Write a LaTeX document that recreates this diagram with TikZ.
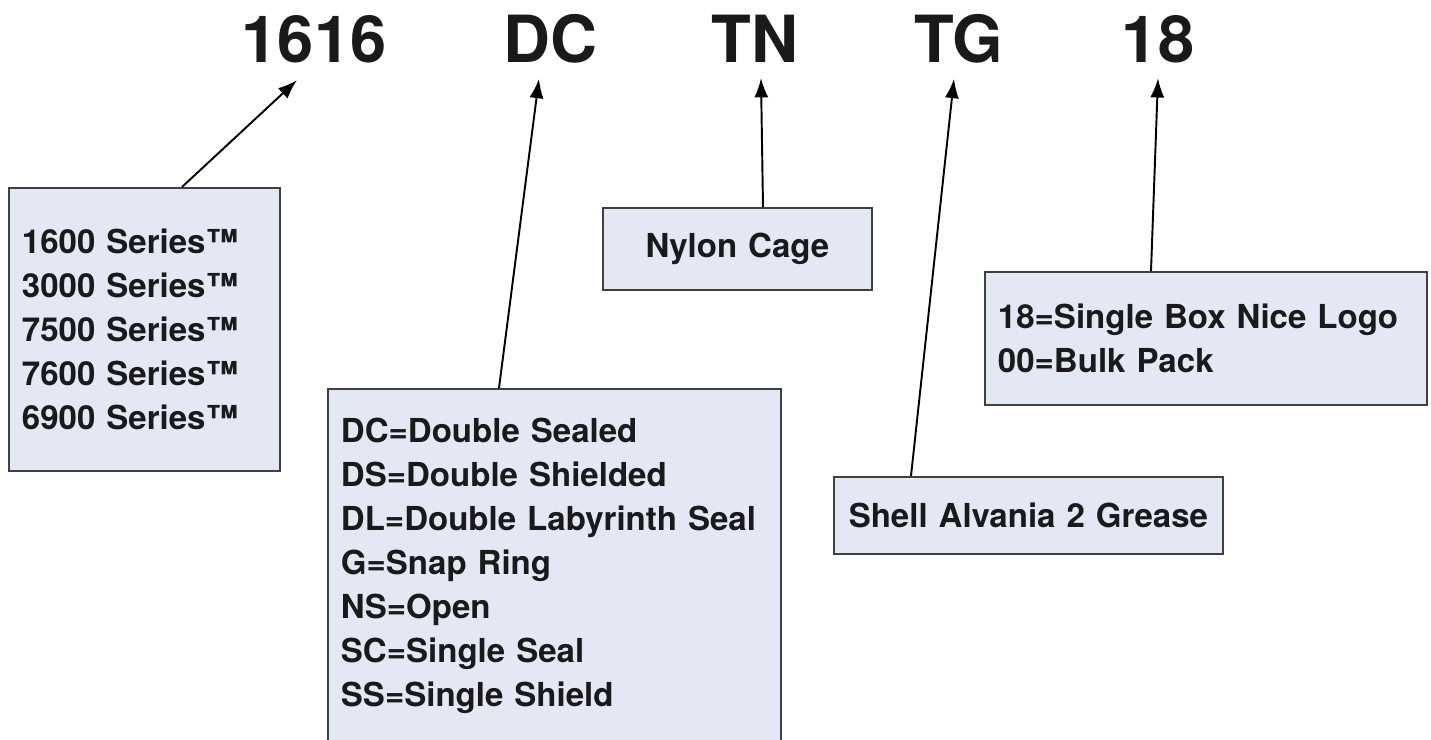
\documentclass[tikz,border=0pt]{standalone}
\usepackage{fontspec}
\setmainfont{TeX Gyre Heros}
\usetikzlibrary{arrows.meta,calc}
\definecolor{boxfill}{HTML}{E4E8F4}
\definecolor{boxline}{HTML}{404040}
\definecolor{ink}{HTML}{1A1A1A}

\begin{document}
\begin{tikzpicture}[x=0.02cm,y=-0.02cm,
  code/.style={font=\fontsize{37}{37}\selectfont\bfseries, text=ink, inner sep=0pt},
  infobox/.style={draw=boxline, line width=1.1pt, fill=boxfill, anchor=north west,
    inner xsep=0.26cm, inner ysep=0pt, text=ink,
    font=\fontsize{18.8}{25}\selectfont\bfseries},
  pointer/.style={black, line width=1.1pt, -{Latex[length=11pt,width=8pt]}}]
\useasboundingbox (0,0) rectangle (1431,740);

% part number
\node [code] (n1616) at (314,39) {1616};
\node [code] (nDC) at (550,39) {DC};
\node [code] (nTN) at (755,39) {TN};
\node [code] (nTG) at (959,39) {TG};
\node [code] (n18) at (1158,39) {18};

% explanation boxes
\node [infobox, align=left, text width=4.9cm, minimum height=5.66cm] (series) at (8,187)
  {1600 Series™\\3000 Series™\\7500 Series™\\7600 Series™\\6900 Series™};
\node [infobox, align=left, text width=8.54cm, minimum height=7.08cm] (seal) at (327,388)
  {DC=Double Sealed\\DS=Double Shielded\\DL=Double Labyrinth Seal\\G=Snap Ring\\NS=Open\\SC=Single Seal\\SS=Single Shield};
\node [infobox, align=center, text width=4.86cm, minimum height=1.64cm] (cage) at (602,207) {Nylon Cage};
\node [infobox, align=center, text width=7.26cm, minimum height=1.54cm] (grease) at (833,476) {Shell Alvania 2 Grease};
\node [infobox, align=left, text width=8.32cm, minimum height=2.66cm] (pack) at (984,271)
  {18=Single Box Nice Logo\\00=Bulk Pack};

% pointers
\draw [pointer] ($(series.north west)+(174,0)$) -- ($(n1616.south)+(-17,17)$);
\draw [pointer] ($(seal.north west)+(172,0)$) -- ($(nDC.south)+(-11,15)$);
\draw [pointer] ($(cage.north west)+(161,0)$) -- ($(nTN.south)+(6,15)$);
\draw [pointer] ($(grease.north west)+(78,0)$) -- ($(nTG.south)+(-5,15)$);
\draw [pointer] ($(pack.north west)+(167,0)$) -- ($(n18.south)+(0,15)$);

\end{tikzpicture}
\end{document}
